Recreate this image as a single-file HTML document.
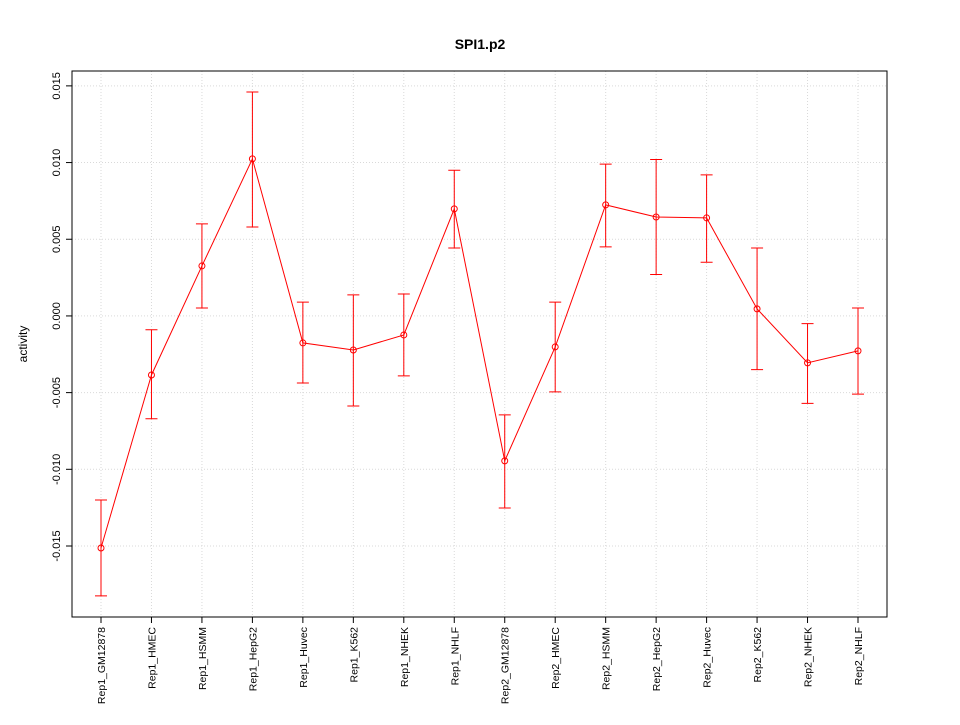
<!DOCTYPE html>
<html><head><meta charset="utf-8"><style>
body{margin:0;background:#fff;}
svg{font-family:"Liberation Sans",sans-serif;}
</style></head><body>
<svg id="chart" width="960" height="720" viewBox="0 0 960 720">
<text x="480" y="49" text-anchor="middle" font-weight="bold" font-size="14">SPI1.p2</text>
<text transform="translate(27,344) rotate(-90)" text-anchor="middle" font-size="12">activity</text>
<g id="grid"></g><g id="axes"></g><g id="marks"></g>
</svg>
<script>
const categories=["Rep1_GM12878","Rep1_HMEC","Rep1_HSMM","Rep1_HepG2","Rep1_Huvec","Rep1_K562","Rep1_NHEK","Rep1_NHLF","Rep2_GM12878","Rep2_HMEC","Rep2_HSMM","Rep2_HepG2","Rep2_Huvec","Rep2_K562","Rep2_NHEK","Rep2_NHLF"];
const values=[-0.01513,-0.00385,0.00326,0.01024,-0.00176,-0.00222,-0.00124,0.00698,-0.00945,-0.00202,0.00724,0.00645,0.00639,0.00046,-0.00306,-0.00228];
const upper=[-0.0120,-0.0009,0.0060,0.0146,0.0009,0.00137,0.00143,0.0095,-0.00645,0.0009,0.0099,0.0102,0.0092,0.00443,-0.0005,0.00052];
const lower=[-0.01825,-0.0067,0.00052,0.0058,-0.00437,-0.00587,-0.00391,0.00443,-0.01252,-0.00495,0.0045,0.0027,0.0035,-0.0035,-0.0057,-0.0051];
const yTicks=[-0.015,-0.010,-0.005,0.000,0.005,0.010,0.015];
const yTickLabels=["-0.015","-0.010","-0.005","0.000","0.005","0.010","0.015"];

const NS="http://www.w3.org/2000/svg";
const L=72,R=887,T=71,B=617;
const yMin=-0.01963,yMax=0.01597;
function y(v){return B-(v-yMin)/(yMax-yMin)*(B-T);}
function x(i){return 101+i*(858-101)/(categories.length-1);}
function mk(tag,attrs,parent){const e=document.createElementNS(NS,tag);for(const k in attrs)e.setAttribute(k,attrs[k]);document.getElementById(parent).appendChild(e);return e;}

const box=mk('rect',{x:L,y:T,width:R-L,height:B-T,fill:'none',stroke:'#000'},'axes');



yTicks.forEach((t,i)=>{
  const g=mk('line',{x1:L,x2:R,y1:y(t),y2:y(t),stroke:'#d9d9d9','stroke-dasharray':'1,2'},'grid');
  
  
  const tk=mk('line',{x1:L-6,x2:L,y1:y(t),y2:y(t),stroke:'#000'},'axes');
  
  
  const lb=mk('text',{transform:`translate(${L-12},${y(t)}) rotate(-90)`,'text-anchor':'middle','font-size':'11'},'axes');
  lb.textContent=yTickLabels[i];
  
  
});
categories.forEach((c,i)=>{
  const g=mk('line',{x1:x(i),x2:x(i),y1:T,y2:B,stroke:'#d9d9d9','stroke-dasharray':'1,2'},'grid');
  
  
  const tk=mk('line',{x1:x(i),x2:x(i),y1:B,y2:B+6,stroke:'#000'},'axes');
  
  
  const lb=mk('text',{transform:`translate(${x(i)+4},${B+10}) rotate(-90)`,'text-anchor':'end','font-size':'10.5'},'axes');
  lb.textContent=c;
  
  
});
const line=mk('polyline',{points:values.map((v,i)=>x(i)+','+y(v)).join(' '),fill:'none',stroke:'red'},'marks');


values.forEach((v,i)=>{
  const e=mk('path',{d:`M${x(i)},${y(upper[i])}V${y(lower[i])}M${x(i)-6},${y(upper[i])}H${x(i)+6}M${x(i)-6},${y(lower[i])}H${x(i)+6}`,stroke:'red',fill:'none'},'marks');
  
  
  const p=mk('circle',{cx:x(i),cy:y(v),r:3,fill:'none',stroke:'red'},'marks');
  
  
});
</script>
</body></html>
